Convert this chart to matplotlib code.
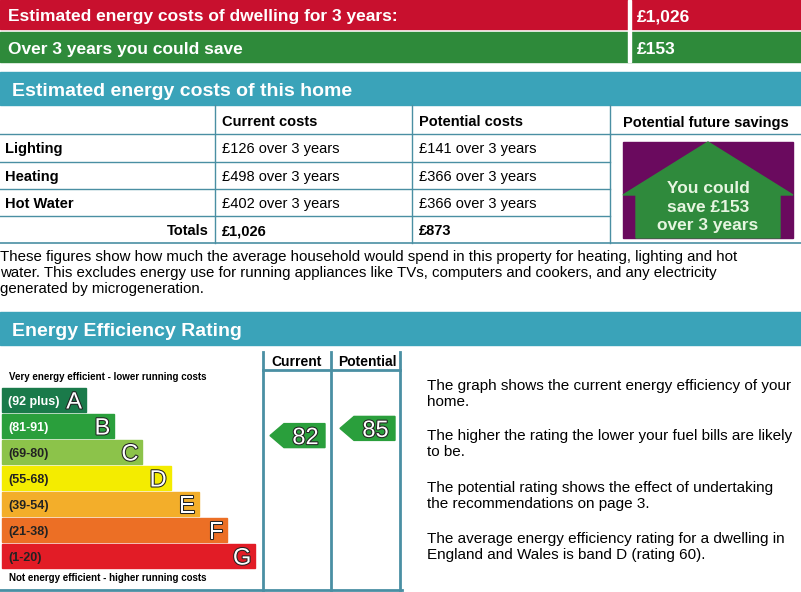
import matplotlib
matplotlib.use("Agg")
import matplotlib.pyplot as plt
import matplotlib.patheffects as pe
from matplotlib.patches import Rectangle, Polygon

plt.rcParams["font.family"] = "Liberation Sans"

total_cost = "£1,026"
saving = "£153"
cost_rows = ["Lighting", "Heating", "Hot Water"]
current_costs = ["£126 over 3 years", "£498 over 3 years", "£402 over 3 years"]
potential_costs = ["£141 over 3 years", "£366 over 3 years", "£366 over 3 years"]
current_total = "£1,026"
potential_total = "£873"
bands = ["A", "B", "C", "D", "E", "F", "G"]
band_ranges = ["(92 plus)", "(81-91)", "(69-80)", "(55-68)", "(39-54)", "(21-38)", "(1-20)"]
band_lo = [92, 81, 69, 55, 39, 21, 1]
band_hi = [100, 91, 80, 68, 54, 38, 20]
band_colors = ["#1a7a4a", "#2a9f3c", "#8cc34a", "#f4ec00", "#f3ae2a", "#ec6f25", "#e21c26"]
current_rating = 82
potential_rating = 85
right_texts = ["The graph shows the current energy efficiency of your\nhome.",
               "The higher the rating the lower your fuel bills are likely\nto be.",
               "The potential rating shows the effect of undertaking\nthe recommendations on page 3.",
               "The average energy efficiency rating for a dwelling in\nEngland and Wales is band D (rating 60)."]

W, H = 801, 592
fig = plt.figure(figsize=(W/100, H/100), dpi=100)
ax = fig.add_axes([0, 0, 1, 1])
ax.set_xlim(0, W); ax.set_ylim(H, 0); ax.axis("off")

RED, GREEN, TEAL, LINE = "#c8102e", "#2e8a3a", "#3aa3b9", "#4a8fa3"
VC = "center_baseline"

ax.add_patch(Rectangle((0, 0), W, 29, color=RED))
ax.add_patch(Rectangle((0, 32), W, 30, color=GREEN))
ax.add_patch(Rectangle((628, 0), 3, 62, color="white"))
ax.text(8, 15, "Estimated energy costs of dwelling for 3 years:", color="white", fontsize=12.5, fontweight="bold", va=VC)
ax.text(637, 15, total_cost, color="white", fontsize=12.5, fontweight="bold", va=VC)
ax.text(8, 48, "Over 3 years you could save", color="white", fontsize=12.5, fontweight="bold", va=VC)
ax.text(637, 48, saving, color="white", fontsize=12.5, fontweight="bold", va=VC)

ax.add_patch(Rectangle((0, 72), W, 33, color=TEAL))
ax.text(12, 89, "Estimated energy costs of this home", color="white", fontsize=14, fontweight="bold", va=VC)

rows_y = [108, 134, 162, 189, 216, 243]
cols_x = [215, 412, 610]
for x in cols_x:
    ax.plot([x, x], [105, 243], color=LINE, lw=1)
for y in rows_y[1:5]:
    ax.plot([0, 610], [y, y], color=LINE, lw=1)
ax.plot([0, W], [243, 243], color=LINE, lw=1.2)
ax.plot([610, W], [134, 134], color=LINE, lw=1)
ax.text(222, 121, "Current costs", fontsize=10.5, fontweight="bold", va=VC)
ax.text(419, 121, "Potential costs", fontsize=10.5, fontweight="bold", va=VC)
ax.text(623, 121, "Potential future savings", fontsize=10.5, fontweight="bold", va=VC)
for i, name in enumerate(cost_rows):
    yc = (rows_y[i+1] + rows_y[i+2]) / 2
    ax.text(5, yc, name, fontsize=10.5, fontweight="bold", va=VC)
    ax.text(222, yc, current_costs[i], fontsize=10.5, va=VC)
    ax.text(419, yc, potential_costs[i], fontsize=10.5, va=VC)
yc = (rows_y[4] + rows_y[5]) / 2
ax.text(209, yc, "Totals", fontsize=10.5, fontweight="bold", va=VC, ha="right")
ax.text(222, yc, current_total, fontsize=10.5, fontweight="bold", va=VC)
ax.text(419, yc, potential_total, fontsize=10.5, fontweight="bold", va=VC)

ax.add_patch(Rectangle((623, 142), 170, 96, color="#6a0a5e"))
ax.add_patch(Polygon([(636, 238), (636, 195), (623, 195), (708, 142), (793, 195), (780, 195), (780, 238)], color="#2f8a3c"))
ax.text(708, 207, f"You could\nsave {saving}\nover 3 years", color="#e6f5e0", fontsize=12.5, fontweight="bold",
        ha="center", va="center", linespacing=1.3)

ax.text(0, 250, "These figures show how much the average household would spend in this property for heating, lighting and hot\n"
        "water. This excludes energy use for running appliances like TVs, computers and cookers, and any electricity\n"
        "generated by microgeneration.", fontsize=10.8, va="top", linespacing=1.17)

ax.add_patch(Rectangle((0, 312), W, 33, color=TEAL))
ax.text(12, 329, "Energy Efficiency Rating", color="white", fontsize=14, fontweight="bold", va=VC)

for x in [263, 331, 400]:
    ax.plot([x, x], [352, 590], color=LINE, lw=2)
ax.plot([263, 400], [370, 370], color=LINE, lw=2)
ax.plot([0, 402], [590, 590], color=LINE, lw=2)
ax.text(297, 360, "Current", fontsize=10, fontweight="bold", ha="center", va=VC)
ax.text(367, 360, "Potential", fontsize=10, fontweight="bold", ha="center", va=VC)
ax.text(9, 376, "Very energy efficient - lower running costs", fontsize=7, fontweight="bold", va=VC)
ax.text(9, 577, "Not energy efficient - higher running costs", fontsize=7, fontweight="bold", va=VC)

band_top, band_h, band_step = 388, 24, 26
for i, b in enumerate(bands):
    y0 = band_top + i * band_step
    w = 84 + 28.2 * i
    ax.add_patch(Rectangle((2, y0), w, band_h, color=band_colors[i]))
    tc = "white" if i in (0, 1) else "#222222"
    ax.text(8, y0 + band_h/2, band_ranges[i], fontsize=9, fontweight="bold", color=tc, va=VC)
    t = ax.text(w - 2, y0 + band_h/2, b, fontsize=17, color="white", ha="right", va=VC)
    t.set_path_effects([pe.withStroke(linewidth=1.5, foreground="#222222")])

def band_index(v):
    return [k for k in range(len(bands)) if band_lo[k] <= v <= band_hi[k]][0]

def rating_y(v):
    i = band_index(v)
    y0 = band_top + i * band_step
    return y0 + (band_hi[i] - v) / (band_hi[i] - band_lo[i]) * band_h

def arrow(x0, x1, v):
    yc = rating_y(v)
    i = band_index(v)
    h = 12
    ax.add_patch(Polygon([(x0, yc), (x0 + 14, yc - h), (x1, yc - h), (x1, yc + h), (x0 + 14, yc + h)], color=band_colors[i]))
    t = ax.text((x0 + 14 + x1) / 2 + 1, yc, str(v), fontsize=17, color="white", ha="center", va=VC)
    t.set_path_effects([pe.withStroke(linewidth=1.5, foreground="#222222")])

arrow(270, 325, current_rating)
arrow(340, 395, potential_rating)

for y, txt in zip([379, 429, 481, 532], right_texts):
    ax.text(427, y, txt, fontsize=11, va="top", linespacing=1.17)

fig.savefig("out.png", dpi=100)
